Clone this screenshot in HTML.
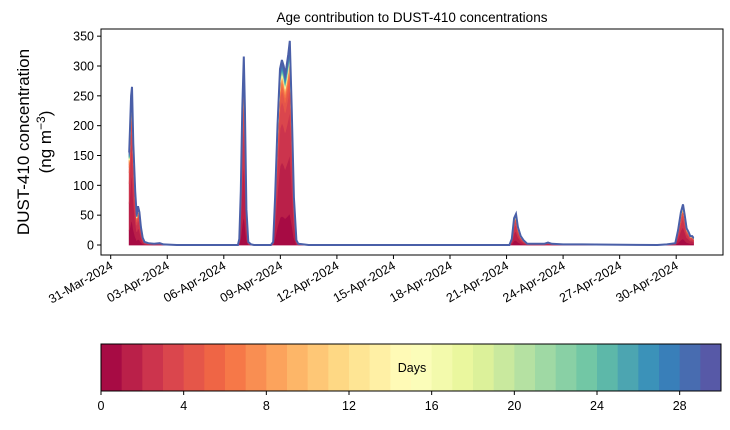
<!DOCTYPE html>
<html><head><meta charset="utf-8">
<style>
body{margin:0;background:#fff;font-family:"Liberation Sans","DejaVu Sans",sans-serif}
svg text{font-family:"Liberation Sans","DejaVu Sans",sans-serif}
</style></head>
<body>
<svg id="c" width="730" height="425" viewBox="0 0 730 425" xmlns="http://www.w3.org/2000/svg"></svg>
<script>
// days since 31-Mar-2024 00:00
const times=[0.98,1.03,1.08,1.13,1.2,1.3,1.38,1.45,1.52,1.6,1.7,1.8,2.0,2.3,2.6,2.8,3.5,6.75,6.82,6.9,6.98,7.06,7.12,7.2,7.3,7.45,7.6,8.5,8.62,8.72,8.85,8.98,9.08,9.18,9.25,9.33,9.42,9.5,9.6,9.72,9.85,9.95,10.5,21.15,21.28,21.4,21.5,21.6,21.75,21.9,22.1,23.0,23.2,23.4,24.0,25.0,29.0,29.5,29.95,30.1,30.25,30.36,30.45,30.55,30.65,30.75,30.85,30.92];
const totals=[155,200,250,265,170,90,50,65,55,30,12,5,3,2,3,1,0,0,10,90,230,316,230,60,5,1,0,0,5,80,200,295,310,300,285,300,320,342,230,80,8,2,0,0,10,45,52,30,15,8,2,2,4,2,1,1,0,1,3,25,55,68,50,28,22,15,15,12];
const ageShares=[0.16,0.30,0.22,0.12,0.06,0.03,0.02,0.012,0.008,0.006,0.004,0.003,0.002,0.002,0.002,0.002,0.002,0.002,0.002,0.002,0.002,0.003,0.003,0.004,0.005,0.006,0.008,0.01,0.012,0.016];
const dateTicks=[0,3,6,9,12,15,18,21,24,27,30];
const dateLabels=["31-Mar-2024","03-Apr-2024","06-Apr-2024","09-Apr-2024","12-Apr-2024","15-Apr-2024","18-Apr-2024","21-Apr-2024","24-Apr-2024","27-Apr-2024","30-Apr-2024"];
const yTicks=[0,50,100,150,200,250,300,350];
const cbTicks=[0,4,8,12,16,20,24,28];

const NS="http://www.w3.org/2000/svg";
const svg=document.getElementById('c');
function el(t,a,p){const e=document.createElementNS(NS,t);for(const k in a)e.setAttribute(k,a[k]);(p||svg).appendChild(e);return e;}
const L=101,R=723,T=29,B=255;
const xs=d=>110.7+d*18.85;
const ys=v=>245-v*(179/300);
const spec=["#9e0142","#d53e4f","#f46d43","#fdae61","#fee08b","#ffffbf","#e6f598","#abdda4","#66c2a5","#3288bd","#5e4fa2"];
function hx(h){return [1,3,5].map(i=>parseInt(h.substr(i,2),16));}
function cmap(t){const p=t*10,i=Math.min(9,Math.floor(p)),f=p-i;const a=hx(spec[i]),b=hx(spec[i+1]);return "rgb("+a.map((v,k)=>Math.round(v+(b[k]-v)*f)).join(",")+")";}

const title=el('text',{x:412,y:22,'text-anchor':'middle','font-size':13.5});title.textContent="Age contribution to DUST-410 concentrations";



const g=el('g',{});


const sumS=ageShares.reduce((a,b)=>a+b,0);
let cum=times.map(()=>0);
for(let k=0;k<ageShares.length;k++){
  const lo=cum.slice();
  cum=cum.map((c,i)=>c+totals[i]*ageShares[k]/sumS);
  let d="M"+times.map((t,i)=>xs(t).toFixed(1)+","+ys(cum[i]).toFixed(1)).join("L");
  for(let i=times.length-1;i>=0;i--)d+="L"+xs(times[i]).toFixed(1)+","+ys(lo[i]).toFixed(1);
  const p=el('path',{d:d+"Z",fill:cmap((k+0.5)/30),stroke:cmap((k+0.5)/30),'stroke-width':0.8},g);
  
  
}
const outline=el('polyline',{points:times.map((t,i)=>xs(t).toFixed(1)+","+ys(totals[i]).toFixed(1)).join(" "),fill:'none',stroke:'#4a5fa8','stroke-width':2});



const fr=el('rect',{x:L,y:T,width:R-L,height:B-T,fill:'none',stroke:'#000','stroke-width':1});


yTicks.forEach(v=>{
  el('line',{x1:L-4,x2:L,y1:ys(v),y2:ys(v),stroke:'#000'});
  const t=el('text',{x:L-7,y:ys(v)+4.5,'text-anchor':'end','font-size':12.5});t.textContent=v;
  
  
});
dateTicks.forEach((d,i)=>{
  const x=xs(d);el('line',{x1:x,x2:x,y1:B,y2:B+4,stroke:'#000'});
  const t=el('text',{x:0,y:0,'text-anchor':'end','font-size':12.5,transform:`translate(${x+3},${B+13}) rotate(-30)`});t.textContent=dateLabels[i];
  
  
});
const yl=el('text',{'text-anchor':'middle','font-size':17,transform:'translate(29,142) rotate(-90)'});yl.textContent="DUST-410 concentration";


const yl2=el('text',{'text-anchor':'middle','font-size':17,transform:'translate(51,142) rotate(-90)'});
const s1=el('tspan',{},yl2);s1.textContent="(ng m";
const s2=el('tspan',{dy:-6,'font-size':12},yl2);s2.textContent="−3";
const s3=el('tspan',{dy:6},yl2);s3.textContent=")";



const cg=el('g',{});


const CL=101,CR=721,CT=344,CB=391,cx=v=>CL+(CR-CL)*v/30;
for(let k=0;k<30;k++){
  const r=el('rect',{x:cx(k),y:CT,width:cx(k+1)-cx(k)+0.5,height:CB-CT,fill:cmap((k+0.5)/30)},cg);
  
  
}
el('rect',{x:CL,y:CT,width:CR-CL,height:CB-CT,fill:'none',stroke:'#000'},cg);
const dl=el('text',{x:412,y:372,'text-anchor':'middle','font-size':12.5},cg);dl.textContent="Days";


cbTicks.forEach(v=>{
  el('line',{x1:cx(v),x2:cx(v),y1:CB,y2:CB+4,stroke:'#000'},cg);
  const t=el('text',{x:cx(v),y:CB+19,'text-anchor':'middle','font-size':12.5},cg);t.textContent=v;
  
  
});
</script>
</body></html>
